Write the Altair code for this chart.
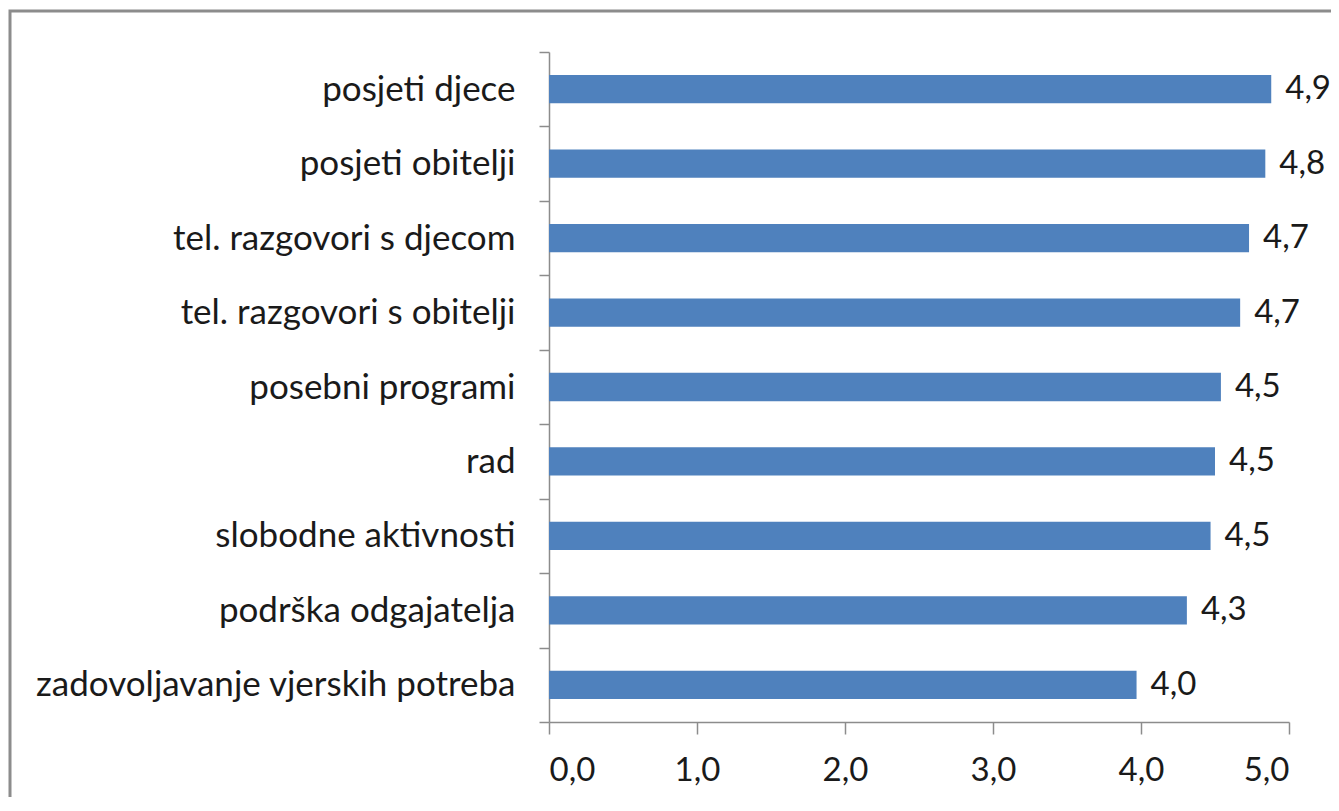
import altair as alt
import pandas as pd

categories = [
    "posjeti djece",
    "posjeti obitelji",
    "tel. razgovori s djecom",
    "tel. razgovori s obitelji",
    "posebni programi",
    "rad",
    "slobodne aktivnosti",
    "podrška odgajatelja",
    "zadovoljavanje vjerskih potreba",
]
values = [4.88, 4.84, 4.73, 4.67, 4.54, 4.50, 4.47, 4.31, 3.97]
x_ticks = [0, 1, 2, 3, 4, 5]

df = pd.DataFrame({"kategorija": categories, "vrijednost": values})

FONT = "Lato"
TEXT_COLOR = "#1a1a1a"
AXIS_COLOR = "#8c8c8c"
FS_Y = 35
FS_N = 33

y_enc = alt.Y(
    "kategorija:N",
    sort=categories,
    scale=alt.Scale(paddingInner=0, paddingOuter=0),
    axis=alt.Axis(
        title=None,
        tickBand="extent",
        labelFontSize=FS_Y,
        labelFont=FONT,
        labelColor=TEXT_COLOR,
        labelPadding=24,
        tickSize=10,
        labelLimit=800,
        domainColor=AXIS_COLOR,
        tickColor=AXIS_COLOR,
        domainWidth=1.5,
        tickWidth=1.5,
    ),
)
x_enc = alt.X(
    "vrijednost:Q",
    scale=alt.Scale(domain=[0, 5], nice=False),
    axis=alt.Axis(
        title=None,
        values=x_ticks,
        labelExpr="replace(format(datum.value, '.1f'), '.', ',')",
        grid=False,
        labelFontSize=FS_N,
        labelFont=FONT,
        labelColor=TEXT_COLOR,
        labelPadding=20,
        tickSize=12,
        domainColor=AXIS_COLOR,
        tickColor=AXIS_COLOR,
        domainWidth=1.5,
        tickWidth=1.5,
    ),
)

bars = (
    alt.Chart(df)
    .mark_bar(color="#4F81BD", height={"band": 0.38})
    .encode(x=x_enc, y=y_enc)
)

labels = (
    alt.Chart(df)
    .transform_calculate(lbl="replace(format(datum.vrijednost, '.1f'), '.', ',')")
    .mark_text(align="left", baseline="middle", dx=14, font=FONT, fontSize=FS_N, color=TEXT_COLOR)
    .encode(x="vrijednost:Q", y=alt.Y("kategorija:N", sort=categories), text="lbl:N")
)

frame = (
    alt.Chart(pd.DataFrame({"f": [0]}))
    .mark_rect(fillOpacity=0, stroke="#8c8c8c", strokeWidth=3)
    .encode(x=alt.value(-539), x2=alt.value(820), y=alt.value(-41), y2=alt.value(756))
)

chart = (
    alt.layer(frame, bars, labels)
    .properties(
        width=740,
        height=670,
        padding={"left": 541, "top": 44, "right": 42, "bottom": 75},
        autosize=alt.AutoSizeParams(type="none"),
        background="white",
    )
    .configure_view(stroke=None)
)

chart.save("out.html", embed_options={"renderer": "svg", "actions": False})
